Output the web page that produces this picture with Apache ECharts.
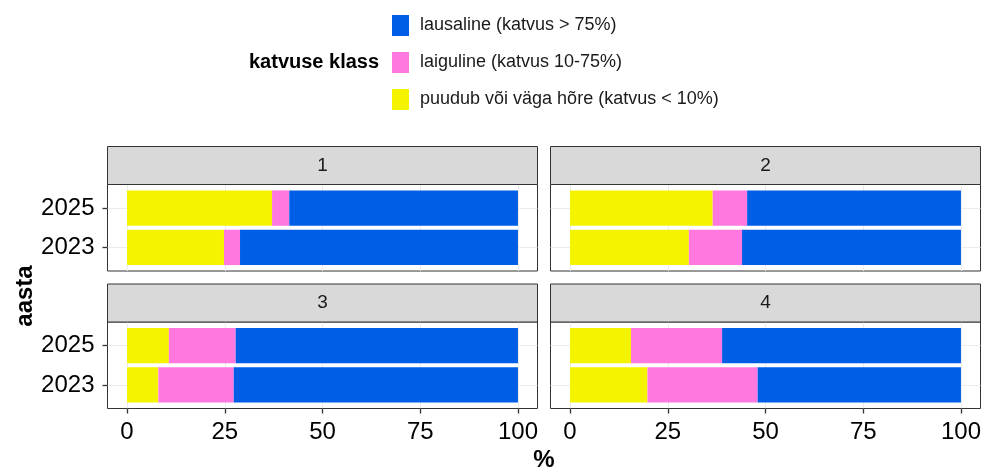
<!DOCTYPE html>
<html>
<head>
<meta charset="utf-8">
<script src="https://cdn.jsdelivr.net/npm/echarts@6/dist/echarts.min.js"></script>
<style>
html,body{margin:0;padding:0;background:#fff;}
#chart{width:984px;height:468px;}
</style>
</head>
<body>
<div id="chart"></div>
<script>
// ---- data ----
const years = ['2023', '2025'];
const panels = ['1', '2', '3', '4'];
const seriesNames = ['puudub või väga hõre (katvus < 10%)', 'laiguline (katvus 10-75%)', 'lausaline (katvus > 75%)'];
// values per panel: [2023, 2025]
const puudub    = [[24.8, 37.1], [30.4, 36.5], [8.0, 10.7], [19.8, 15.6]];
const laiguline = [[4.1, 4.4],   [13.6, 8.8],  [19.3, 17.1], [28.2, 23.3]];
const lausaline = [[71.1, 58.5], [56.0, 54.7], [72.7, 72.2], [52.0, 61.1]];
const xTicks = [0, 25, 50, 75, 100];

// ---- style / layout ----
const FONT = 'Liberation Sans, Arial, sans-serif';
const colors = ['#F4F400', '#FF78DF', '#005EE6'];
const colLeft = [107.5, 550.5];
const panelW = 430;
const stripTop = [146.5, 284];
const stripH = 38;
const panelH = 86.5;
const inset = panelH / 2.2 * 0.1;

const chart = echarts.init(document.getElementById('chart'), null, {renderer: 'canvas'});

const grids = [], xAxes = [], yAxes = [], series = [], graphics = [];
const valueSets = [puudub, laiguline, lausaline];

panels.forEach((p, i) => {
  const col = i % 2, row = Math.floor(i / 2);
  const left = colLeft[col];
  const top = stripTop[row] + stripH;
  const isBottom = row === 1, isLeft = col === 0;
  // background grid (full panel)
  grids.push({left: left, top: top, width: panelW, height: panelH, show: true,
    borderColor: '#333333', borderWidth: 1, backgroundColor: '#fff', containLabel: false});
  // bars grid (inset vertically)
  grids.push({left: left, top: top + inset, width: panelW, height: panelH - 2 * inset, containLabel: false});
  const bg = 2 * i, bb = 2 * i + 1;
  xAxes.push({gridIndex: bg, type: 'value', min: -5, max: 105, position: 'bottom',
    axisLine: {show: false, onZero: false},
    axisTick: {show: isBottom, customValues: xTicks, length: 5, lineStyle: {color: '#333333', width: 1.3}},
    axisLabel: {show: isBottom, customValues: xTicks, fontSize: 24, color: '#000', fontFamily: FONT, margin: 12},
    splitLine: {show: true, lineStyle: {color: '#EBEBEB', width: 1}}
  });
  xAxes.push({gridIndex: bb, type: 'value', min: -5, max: 105, show: false});
  yAxes.push({gridIndex: bg, type: 'value', min: 0.4, max: 2.6,
    axisLine: {show: false, onZero: false},
    axisTick: {show: false, customValues: [1, 2]},
    axisLabel: {show: false, customValues: [1, 2]},
    splitLine: {show: true, lineStyle: {color: '#EBEBEB', width: 1}}
  });
  yAxes.push({gridIndex: bb, type: 'category', data: years, position: 'left',
    axisLine: {show: false, onZero: false},
    axisTick: {show: isLeft, alignWithLabel: true, length: 5, lineStyle: {color: '#333333', width: 1.3}},
    axisLabel: {show: isLeft, fontSize: 24, color: '#000', fontFamily: FONT, margin: 13},
    splitLine: {show: false}
  });
  valueSets.forEach((vals, k) => {
    series.push({type: 'bar', name: seriesNames[k], xAxisIndex: bb, yAxisIndex: bb,
      stack: 'p' + i, data: vals[i], barCategoryGap: '10%',
      itemStyle: {color: colors[k]}, emphasis: {disabled: true}, silent: true});
  });
  // strip
  graphics.push({type: 'rect', shape: {x: left, y: stripTop[row], width: panelW, height: stripH},
    style: {fill: '#D9D9D9', stroke: '#333333', lineWidth: 1}, z: 10});
  graphics.push({type: 'text', x: left + panelW / 2, y: stripTop[row] + stripH / 2,
    style: {text: p, fill: '#1A1A1A', font: '19px ' + FONT, align: 'center', verticalAlign: 'middle'}, z: 11});
});

graphics.push({type: 'text', x: 249, y: 62,
  style: {text: 'katvuse klass', fill: '#000', font: 'bold 20px ' + FONT, align: 'left', verticalAlign: 'middle'}});
graphics.push({type: 'text', x: 25, y: 296, rotation: Math.PI / 2,
  style: {text: 'aasta', fill: '#000', font: 'bold 24px ' + FONT, align: 'center', verticalAlign: 'middle'}});
graphics.push({type: 'text', x: 544, y: 460,
  style: {text: '%', fill: '#000', font: 'bold 24px ' + FONT, align: 'center', verticalAlign: 'middle'}});

chart.setOption({
  animation: false,
  backgroundColor: '#fff',
  grid: grids,
  xAxis: xAxes,
  yAxis: yAxes,
  legend: {orient: 'vertical', left: 387, top: 10, itemWidth: 17, itemHeight: 21, itemGap: 16,
    icon: 'rect', selectedMode: false,
    data: [seriesNames[2], seriesNames[1], seriesNames[0]],
    textStyle: {fontSize: 18, color: '#1A1A1A', fontFamily: FONT, padding: [0, 0, 0, 6]}},
  series: series,
  graphic: graphics
});
</script>
</body>
</html>
